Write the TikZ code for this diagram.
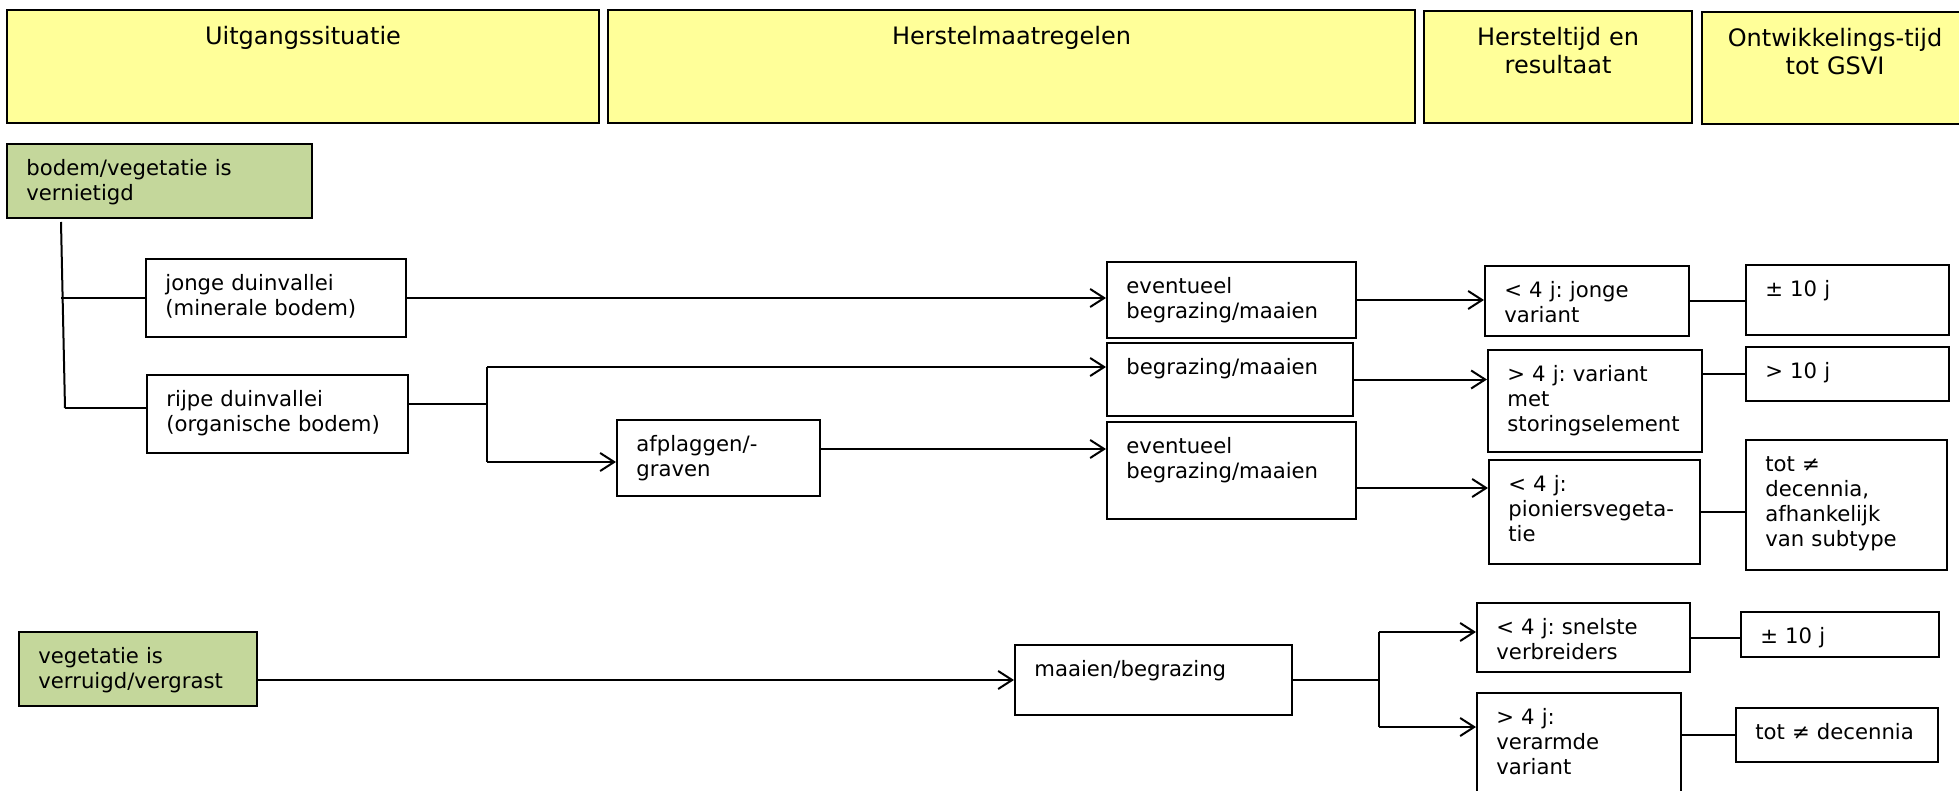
\documentclass[tikz,border=0pt]{standalone}
\usepackage{fontspec}
\setmainfont{DejaVu Sans}
\usetikzlibrary{arrows.meta,calc,fit}
\definecolor{kopgeel}{RGB}{255,255,153}
\definecolor{startgroen}{RGB}{196,215,155}
\tikzset{
  vakje/.style={draw, line width=1pt, inner sep=0pt},
  kop/.style={vakje, fill=kopgeel},
  start/.style={vakje, fill=startgroen},
  tekst/.style={anchor=north west, text width=200pt, align=left, inner sep=0pt, font=\fontsize{10.6}{12.5}\selectfont\frenchspacing, execute at begin node=\strut},
  koptekst/.style={anchor=north, text width=130pt, align=center, inner sep=0pt, font=\fontsize{12}{13.8}\selectfont\frenchspacing, execute at begin node=\strut},
  lijn/.style={line width=1pt},
  pijl/.style={lijn, -{Straight Barb[length=7pt,width=9pt]}}
}
\def\vak[#1](#2)(#3,#4)(#5,#6)#7{%
  \node[#1, fit={(#3,#4) (#5,#6)}] (#2) {};
  \node[tekst] (#2-t) at ($(#2.north west)+(10pt,-7.5pt)$) {#7};}
\def\kopvak(#1)(#2,#3)(#4,#5)#6{%
  \node[kop, fit={(#2,#3) (#4,#5)}] (#1) {};
  \node[koptekst] (#1-t) at ($(#1.north)+(0pt,-8.1pt)$) {#6};}

\begin{document}
\begin{tikzpicture}[x=0.5pt, y=-0.5pt]
	\useasboundingbox (0,0) rectangle (1959,791);

	\kopvak(uitgang)(7,10)(599,123){Uitgangssituatie}
	\kopvak(maatregel)(608,10)(1415,123){Herstelmaatregelen}
	\kopvak(hersteltijd)(1424,11)(1692,123){Hersteltijd en\\ resultaat}
	\kopvak(ontwikkel)(1702,12)(1968,124){Ontwikkelings-tijd\\ tot GSVI}

	\vak[start](groen1)(7,144)(312,218){bodem/vegetatie is\\ vernietigd}
	\vak[vakje](jonge)(146,259)(406,337){jonge duinvallei\\ (minerale bodem)}
	\vak[vakje](rijpe)(147,375)(408,453){rijpe duinvallei\\ (organische bodem)}
	\vak[vakje](afplag)(617,420)(820,496){afplaggen/-\\ graven}
	\vak[vakje](ev1)(1107,262)(1356,338){eventueel\\ begrazing/maaien}
	\vak[vakje](begr)(1107,343)(1353,416){begrazing/maaien}
	\vak[vakje](ev2)(1107,422)(1356,519){eventueel\\ begrazing/maaien}
	\vak[vakje](jv)(1485,266)(1689,336){< 4 j: jonge\\ variant}
	\vak[vakje](vm)(1488,350)(1702,452){> 4 j: variant\\ met\\ storingselement}
	\vak[vakje](pio)(1489,460)(1700,564){< 4 j:\\ pioniersvegeta-\\ tie}
	\vak[vakje](tien1)(1746,265)(1949,335){± 10 j}
	\vak[vakje](tien2)(1746,347)(1949,401){> 10 j}
	\vak[vakje](decen1)(1746,440)(1947,570){tot ≠\\ decennia,\\ afhankelijk\\ van subtype}

	\vak[start](groen2)(19,632)(257,706){vegetatie is\\ verruigd/vergrast}
	\vak[vakje](maaien)(1015,645)(1292,715){maaien/begrazing}
	\vak[vakje](snel)(1477,603)(1690,672){< 4 j: snelste\\ verbreiders}
	\vak[vakje](verarm)(1477,693)(1681,800){> 4 j:\\ verarmde\\ variant}
	\vak[vakje](tien3)(1741,612)(1939,657){± 10 j}
	\vak[vakje](decen2)(1736,708)(1938,762){tot ≠ decennia}

	\coordinate (stamtop) at (61,222);
	\coordinate (stamvoet) at (65,408);
	\coordinate (splits) at (487,404);
	\coordinate (splitsboven) at (487,367);
	\coordinate (splitsonder) at (487,462);
	\coordinate (splits2boven) at (1379,632);
	\coordinate (splits2onder) at (1379,727);

	\draw[lijn] (stamtop) -- (stamvoet);
	\draw[lijn] (jonge.west -| stamtop) -- (jonge.west);
	\draw[lijn] (stamvoet) -- (stamvoet -| rijpe.west);
	\draw[pijl] (jonge.east) -- (jonge.east -| ev1.west);
	\draw[lijn] (splits -| rijpe.east) -- (splits);
	\draw[lijn] (splitsboven) -- (splitsonder);
	\draw[pijl] (splitsboven) -- (splitsboven -| begr.west);
	\draw[pijl] (splitsonder) -- (splitsonder -| afplag.west);
	\draw[pijl] ([yshift=4.5pt]afplag.east) -- ([yshift=4.5pt]afplag.east -| ev2.west);

	\draw[pijl] (ev1.east) -- (ev1.east -| jv.west);
	\draw[pijl] (begr.east) -- (begr.east -| vm.west);
	\draw[pijl] ([yshift=-8.75pt]ev2.east) -- ([yshift=-8.75pt]ev2.east -| pio.west);
	\draw[lijn] (jv.east) -- (jv.east -| tien1.west);
	\draw[lijn] (tien2.west -| vm.east) -- (tien2.west);
	\draw[lijn] (pio.east) -- (pio.east -| decen1.west);

	\draw[pijl] (maaien.west -| groen2.east) -- (maaien.west);
	\draw[lijn] (maaien.east) -- (maaien.east -| splits2boven);
	\draw[lijn] (splits2boven) -- (splits2onder);
	\draw[pijl] (splits2boven) -- (splits2boven -| snel.west);
	\draw[pijl] (splits2onder) -- (splits2onder -| verarm.west);
	\draw[lijn] (snel.east) -- (snel.east -| tien3.west);
	\draw[lijn] (decen2.west -| verarm.east) -- (decen2.west);
\end{tikzpicture}
\end{document}
